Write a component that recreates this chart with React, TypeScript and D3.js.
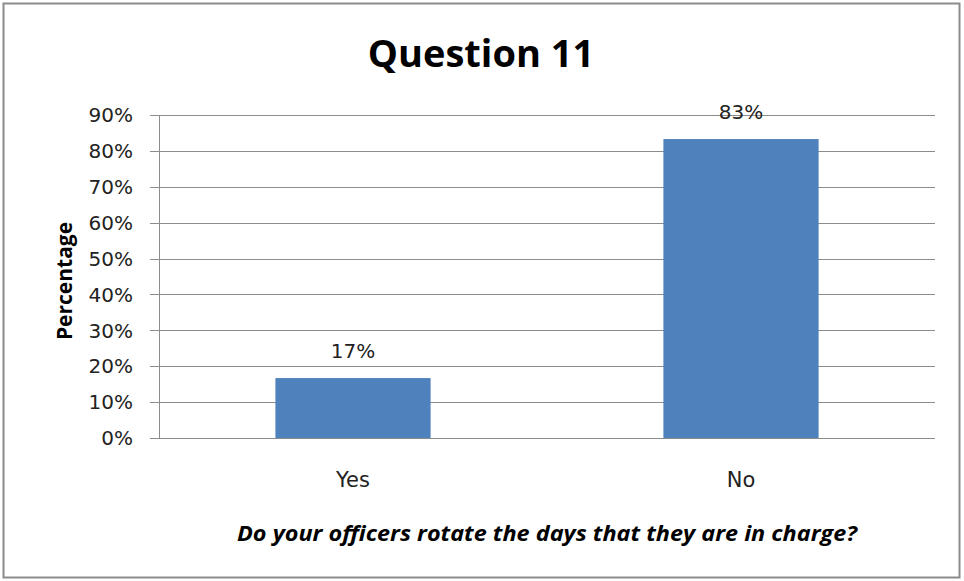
import React from "react";
import * as d3 from "d3";

const categories = ["Yes", "No"];
const values = [0.167, 0.833];
const valueLabels = ["17%", "83%"];
const yTicks = [0, 0.1, 0.2, 0.3, 0.4, 0.5, 0.6, 0.7, 0.8, 0.9];
const title = "Question 11";
const yTitle = "Percentage";
const xTitle = "Do your officers rotate the days that they are in charge?";

const W = 964;
const H = 581;
const left = 159;
const right = 935;
const top = 115;
const bottom = 438;

export default function App() {
  const x = d3.scaleBand<string>().domain(categories).range([left, right]).paddingInner(0.6).paddingOuter(0.3);
  const y = d3.scaleLinear().domain([0, 0.9]).range([bottom, top]);
  const fmt = d3.format(".0%");
  const tickFont = "'DejaVu Sans', Verdana, sans-serif";
  const titleFont = "'Open Sans', Calibri, sans-serif";
  return (
    <svg width={W} height={H} style={{ position: "absolute", left: 0, top: 0 }}>
      <rect x={0} y={0} width={W} height={H} fill="#fff" />
      <rect x={3.5} y={3.5} width={956} height={574} fill="none" stroke="#8c8c8c" strokeWidth={2} />
      <text x={481} y={67} textAnchor="middle" fontFamily={titleFont} fontWeight="bold" fontSize={38} fill="#000">
        {title}
      </text>
      {yTicks.map((t) => (
        <g key={t}>
          <line x1={150} x2={right} y1={Math.round(y(t)) + 0.5} y2={Math.round(y(t)) + 0.5} stroke="#8c8c8c" strokeWidth={1} />
          <text x={133} y={y(t)} dy="0.36em" textAnchor="end" fontFamily={tickFont} fontSize={20} fill="#222">
            {fmt(t)}
          </text>
        </g>
      ))}
      <line x1={left + 0.5} x2={left + 0.5} y1={top} y2={bottom} stroke="#8c8c8c" strokeWidth={1} />
      {categories.map((c, i) => (
        <g key={c}>
          <rect x={x(c)} y={y(values[i])} width={x.bandwidth()} height={bottom - y(values[i])} fill="#4f81bd" />
          <text x={(x(c) as number) + x.bandwidth() / 2} y={y(values[i]) - 20} textAnchor="middle" fontFamily={tickFont} fontSize={20} fill="#222">
            {valueLabels[i]}
          </text>
          <text x={(x(c) as number) + x.bandwidth() / 2} y={487} textAnchor="middle" fontFamily={tickFont} fontSize={21} fill="#222">
            {c}
          </text>
        </g>
      ))}
      <text transform={`translate(72,281) rotate(-90)`} textAnchor="middle" fontFamily={titleFont} fontWeight="bold" fontSize={21} fill="#000">
        {yTitle}
      </text>
      <text x={547} y={541} textAnchor="middle" fontFamily={titleFont} fontWeight="bold" fontStyle="italic" fontSize={22} textLength={620} lengthAdjust="spacingAndGlyphs" fill="#000">
        {xTitle}
      </text>
    </svg>
  );
}
